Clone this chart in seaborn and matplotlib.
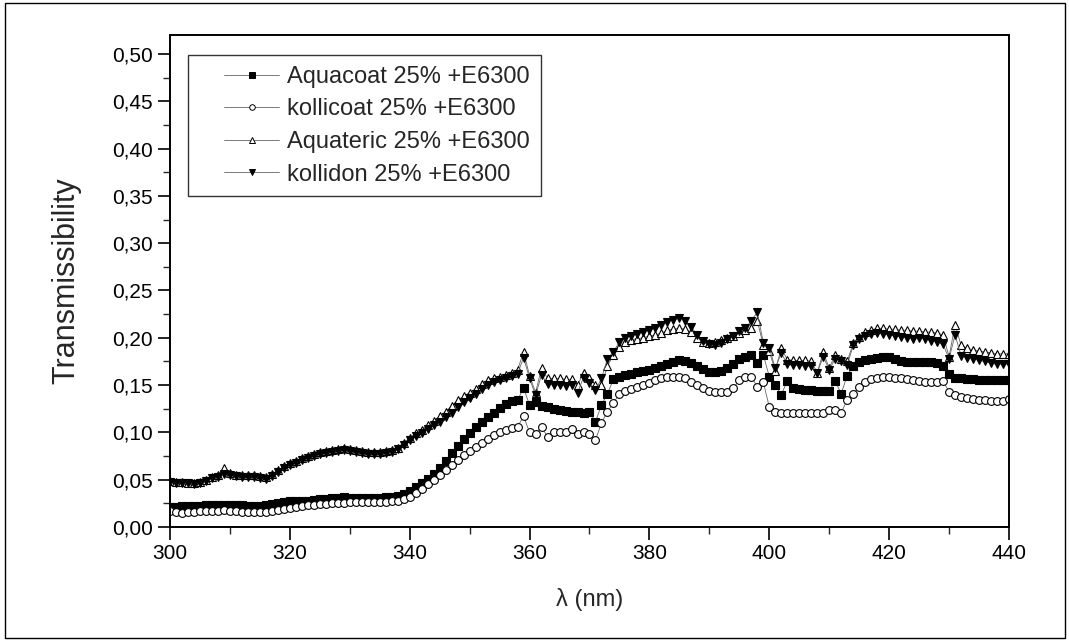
import numpy as np
import pandas as pd
import matplotlib
matplotlib.use("Agg")
import matplotlib.pyplot as plt
from matplotlib.lines import Line2D
from matplotlib.patches import Rectangle
from matplotlib.ticker import MultipleLocator, FuncFormatter
from matplotlib.legend_handler import HandlerLine2D
import seaborn as sns

wavelength = list(range(300, 441))

aquacoat = [
    0.021, 0.021, 0.022, 0.022, 0.022, 0.022, 0.023, 0.023, 0.023, 0.023,
    0.023, 0.023, 0.023, 0.022, 0.022, 0.022, 0.023, 0.024, 0.025, 0.026,
    0.027, 0.027, 0.028, 0.028, 0.029, 0.030, 0.030, 0.031, 0.031, 0.032,
    0.031, 0.031, 0.031, 0.031, 0.031, 0.031, 0.032, 0.032, 0.033, 0.035,
    0.038, 0.042, 0.046, 0.051, 0.056, 0.062, 0.070, 0.078, 0.086, 0.093,
    0.099, 0.106, 0.111, 0.116, 0.121, 0.126, 0.130, 0.133, 0.134, 0.147,
    0.129, 0.132, 0.128, 0.127, 0.125, 0.124, 0.123, 0.122, 0.122, 0.121,
    0.122, 0.111, 0.129, 0.141, 0.156, 0.159, 0.161, 0.162, 0.164, 0.165,
    0.166, 0.168, 0.170, 0.172, 0.174, 0.176, 0.175, 0.173, 0.170, 0.167,
    0.164, 0.164, 0.165, 0.168, 0.172, 0.178, 0.180, 0.182, 0.173, 0.182,
    0.159, 0.150, 0.140, 0.154, 0.147, 0.146, 0.145, 0.145, 0.144, 0.144,
    0.144, 0.154, 0.141, 0.160, 0.170, 0.174, 0.177, 0.178, 0.179, 0.180,
    0.180, 0.178, 0.175, 0.174, 0.174, 0.174, 0.174, 0.174, 0.173, 0.170,
    0.162, 0.158, 0.157, 0.156, 0.156, 0.155, 0.155, 0.155, 0.155, 0.155,
    0.155,
]

kollicoat = [
    0.017, 0.016, 0.015, 0.016, 0.016, 0.017, 0.017, 0.017, 0.017, 0.018,
    0.017, 0.017, 0.016, 0.016, 0.016, 0.016, 0.016, 0.017, 0.018, 0.019,
    0.020, 0.021, 0.022, 0.023, 0.023, 0.024, 0.024, 0.025, 0.025, 0.025,
    0.026, 0.026, 0.026, 0.026, 0.026, 0.026, 0.026, 0.027, 0.028, 0.030,
    0.032, 0.036, 0.040, 0.045, 0.050, 0.055, 0.060, 0.066, 0.071, 0.076,
    0.080, 0.085, 0.089, 0.093, 0.097, 0.100, 0.102, 0.105, 0.106, 0.117,
    0.100, 0.098, 0.106, 0.095, 0.100, 0.100, 0.100, 0.1035, 0.098, 0.100,
    0.098, 0.092, 0.110, 0.122, 0.131, 0.141, 0.144, 0.146, 0.148, 0.150,
    0.152, 0.155, 0.157, 0.159, 0.159, 0.159, 0.158, 0.153, 0.150, 0.147,
    0.144, 0.143, 0.143, 0.143, 0.147, 0.155, 0.159, 0.159, 0.148, 0.153,
    0.127, 0.122, 0.121, 0.121, 0.121, 0.121, 0.121, 0.120, 0.120, 0.120,
    0.124, 0.124, 0.121, 0.134, 0.141, 0.148, 0.153, 0.156, 0.158, 0.159,
    0.159, 0.158, 0.157, 0.156, 0.155, 0.154, 0.153, 0.153, 0.153, 0.154,
    0.143, 0.139, 0.137, 0.136, 0.135, 0.134, 0.134, 0.133, 0.133, 0.133,
    0.135,
]

aquateric = [
    0.049, 0.048, 0.048, 0.047, 0.047, 0.048, 0.050, 0.053, 0.055, 0.062,
    0.057, 0.055, 0.055, 0.055, 0.055, 0.054, 0.053, 0.056, 0.060, 0.064,
    0.068, 0.070, 0.073, 0.075, 0.077, 0.079, 0.080, 0.081, 0.082, 0.084,
    0.082, 0.081, 0.080, 0.079, 0.079, 0.079, 0.080, 0.081, 0.084, 0.089,
    0.094, 0.099, 0.103, 0.108, 0.112, 0.117, 0.122, 0.128, 0.134, 0.138,
    0.142, 0.146, 0.151, 0.155, 0.157, 0.159, 0.161, 0.163, 0.166, 0.185,
    0.160, 0.142, 0.168, 0.157, 0.157, 0.157, 0.156, 0.156, 0.150, 0.163,
    0.157, 0.150, 0.150, 0.170, 0.182, 0.190, 0.196, 0.198, 0.199, 0.200,
    0.202, 0.203, 0.205, 0.208, 0.209, 0.210, 0.209, 0.206, 0.200, 0.196,
    0.195, 0.196, 0.198, 0.200, 0.202, 0.205, 0.208, 0.210, 0.218, 0.192,
    0.186, 0.165, 0.189, 0.177, 0.176, 0.176, 0.176, 0.175, 0.163, 0.185,
    0.168, 0.182, 0.178, 0.175, 0.194, 0.201, 0.206, 0.208, 0.210, 0.210,
    0.209, 0.209, 0.208, 0.208, 0.207, 0.207, 0.206, 0.206, 0.205, 0.203,
    0.180, 0.214, 0.192, 0.189, 0.187, 0.186, 0.185, 0.184, 0.183, 0.183,
    0.183,
]

kollidon = [
    0.048, 0.047, 0.047, 0.046, 0.045, 0.047, 0.049, 0.052, 0.053, 0.056,
    0.055, 0.054, 0.053, 0.053, 0.053, 0.052, 0.051, 0.054, 0.058, 0.062,
    0.066, 0.068, 0.071, 0.073, 0.075, 0.077, 0.078, 0.079, 0.080, 0.081,
    0.080, 0.079, 0.078, 0.077, 0.077, 0.077, 0.078, 0.079, 0.082, 0.087,
    0.092, 0.096, 0.099, 0.104, 0.108, 0.111, 0.116, 0.121, 0.127, 0.132,
    0.136, 0.141, 0.146, 0.150, 0.153, 0.155, 0.157, 0.160, 0.162, 0.179,
    0.157, 0.139, 0.161, 0.151, 0.150, 0.150, 0.149, 0.150, 0.142, 0.158,
    0.152, 0.145, 0.157, 0.178, 0.185, 0.196, 0.200, 0.202, 0.204, 0.206,
    0.208, 0.210, 0.213, 0.217, 0.219, 0.221, 0.218, 0.211, 0.203, 0.197,
    0.193, 0.192, 0.194, 0.199, 0.202, 0.207, 0.210, 0.218, 0.227, 0.195,
    0.189, 0.168, 0.184, 0.172, 0.171, 0.171, 0.170, 0.170, 0.163, 0.180,
    0.166, 0.178, 0.175, 0.171, 0.192, 0.199, 0.202, 0.204, 0.205, 0.204,
    0.203, 0.202, 0.201, 0.200, 0.199, 0.200, 0.199, 0.197, 0.196, 0.193,
    0.178, 0.203, 0.181, 0.179, 0.178, 0.176, 0.175, 0.173, 0.172, 0.172,
    0.172,
]

labels = ["Aquacoat 25% +E6300", "kollicoat 25% +E6300",
          "Aquateric 25% +E6300", "kollidon 25% +E6300"]
series = [aquacoat, kollicoat, aquateric, kollidon]
markers = ["s", "o", "^", "v"]
facecolors = ["black", "white", "white", "black"]

sns.set_style("ticks")
plt.rcParams["font.family"] = ["Liberation Sans", "DejaVu Sans"]

fig = plt.figure(figsize=(10.69, 6.40), dpi=100)
ax = fig.add_axes([170 / 1069, 1 - 527 / 640, 839 / 1069, 492 / 640])

for lab, vals, mk, fc in zip(labels, series, markers, facecolors):
    df = pd.DataFrame({"x": wavelength, "y": vals})
    sns.lineplot(data=df, x="x", y="y", ax=ax, color="#666666", lw=0.6,
                 marker=mk, markersize=5.6, markerfacecolor=fc,
                 markeredgecolor="black", markeredgewidth=0.8,
                 label=lab, legend=False)

ax.set_xlim(300, 440)
ax.set_ylim(0, 0.52)
ax.xaxis.set_major_locator(MultipleLocator(20))
ax.xaxis.set_minor_locator(MultipleLocator(10))
ax.yaxis.set_major_locator(MultipleLocator(0.05))
ax.yaxis.set_minor_locator(MultipleLocator(0.025))
ax.yaxis.set_major_formatter(FuncFormatter(lambda v, p: f"{v:.2f}".replace(".", ",")))
ax.tick_params(which="major", direction="out", length=9, width=1.2,
               labelsize=15, top=False, right=False, colors="black")
ax.tick_params(which="minor", direction="out", length=5, width=1.0,
               top=False, right=False)
for s in ax.spines.values():
    s.set_linewidth(1.4)
    s.set_color("black")
    s.set_visible(True)

ax.set_xlabel("λ (nm)", fontsize=17, labelpad=18)
ax.set_ylabel("Transmissibility", fontsize=22, labelpad=22)


class OffsetLineHandler(HandlerLine2D):
    def create_artists(self, legend, orig_handle, xdescent, ydescent,
                       width, height, fontsize, trans):
        off = 0.32 * width
        return super().create_artists(legend, orig_handle, xdescent - off,
                                      ydescent, width - off, height,
                                      fontsize, trans)


handles = [Line2D([0], [0], color="#666666", lw=0.6, marker=mk, markersize=4,
                  markerfacecolor=fc, markeredgecolor="black", markeredgewidth=0.7)
           for mk, fc in zip(markers, facecolors)]
leg = ax.legend(handles, labels, loc="upper left", bbox_to_anchor=(0.0215, 0.959),
                borderaxespad=0, frameon=True, fancybox=False, fontsize=17,
                handlelength=3.4, handletextpad=0.35, labelspacing=0.45,
                borderpad=0.45,
                handler_map={Line2D: OffsetLineHandler()})
leg.get_frame().set_edgecolor("black")
leg.get_frame().set_linewidth(1.0)

fig.patches.append(Rectangle((5 / 1069, 2 / 640), 1060 / 1069, 635 / 640,
                             transform=fig.transFigure, fill=False,
                             edgecolor="black", lw=1.0))

fig.savefig("out.png", dpi=100)
